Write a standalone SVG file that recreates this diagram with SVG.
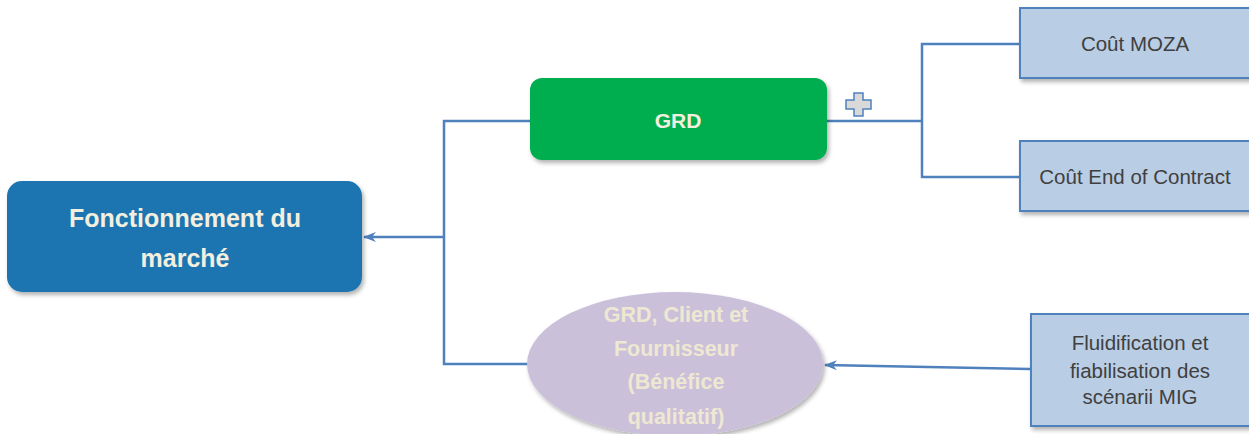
<svg xmlns="http://www.w3.org/2000/svg" width="1249" height="434" viewBox="0 0 1249 434">
  <style>
    .conn { fill: none; stroke: #4F81BD; stroke-width: 2.5; }
    .head { fill: #4F81BD; }
    .main-txt { font-family: "Liberation Sans", Arial, sans-serif; font-weight: bold; font-size: 25px; fill: #F3EFDF; text-anchor: middle; }
    .grd-txt { font-family: "Liberation Sans", Arial, sans-serif; font-weight: bold; font-size: 21px; fill: #F3EFDF; text-anchor: middle; }
    .ell-txt { font-family: "Liberation Sans", Arial, sans-serif; font-weight: bold; font-size: 21.5px; fill: #EEE8D2; text-anchor: middle; }
    .box { fill: #B9CDE5; stroke: #4F81BD; stroke-width: 2; }
    .box-txt { font-family: "Liberation Sans", Arial, sans-serif; font-size: 20.5px; fill: #404040; text-anchor: middle; }
  </style>
  <defs>
    <filter id="shadow" x="-10%" y="-10%" width="125%" height="130%">
      <feDropShadow dx="2" dy="3" stdDeviation="2" flood-color="#000000" flood-opacity="0.3"/>
    </filter>
    <marker id="arrow" markerWidth="13" markerHeight="12" refX="12" refY="6" orient="auto" markerUnits="userSpaceOnUse">
      <path d="M0,1 L13,6 L0,11 L4,6 Z" class="head"/>
    </marker>
  </defs>

  <rect width="1249" height="434" fill="#FFFFFF"/>

  <!-- connectors -->
  <g id="connectors">
    <path class="conn" d="M530,121 H444 V364 H528"/>
    <path class="conn" d="M444,237 H364" marker-end="url(#arrow)"/>
    <path class="conn" d="M827,121 H922 M1019,44 H922 V177 H1019"/>
    <path class="conn" d="M1030,369 L825,365" marker-end="url(#arrow)"/>
  </g>

  <!-- root node -->
  <g id="node-fonctionnement">
    <rect x="7" y="181" width="355" height="111" rx="15" fill="#1C75B0" filter="url(#shadow)"/>
    <text class="main-txt" x="185" y="227">Fonctionnement du</text>
    <text class="main-txt" x="185" y="267">marché</text>
  </g>

  <!-- GRD node -->
  <g id="node-grd">
    <rect x="530" y="78" width="297" height="82" rx="12" fill="#00AE50" filter="url(#shadow)"/>
    <text class="grd-txt" x="678" y="128">GRD</text>
  </g>

  <!-- expand marker next to GRD -->
  <g id="expand-icon">
    <path d="M854,93 H863 V100 H871 V109 H863 V116 H854 V109 H846 V100 H854 Z" fill="#D9D9D9" stroke="#4F81BD" stroke-width="1.5"/>
  </g>

  <!-- cost nodes -->
  <g id="node-moza">
    <rect class="box" x="1020" y="8" width="240" height="70" filter="url(#shadow)"/>
    <text class="box-txt" x="1135" y="51" font-size="20">Coût MOZA</text>
  </g>
  <g id="node-end-of-contract">
    <rect class="box" x="1020" y="141" width="240" height="70" filter="url(#shadow)"/>
    <text class="box-txt" x="1135" y="184">Coût End of Contract</text>
  </g>

  <!-- qualitative benefit node -->
  <g id="node-benefice">
    <ellipse cx="675" cy="364" rx="148" ry="72" fill="#CBC0DA" filter="url(#shadow)"/>
    <text class="ell-txt" x="676" y="322">GRD, Client et</text>
    <text class="ell-txt" x="676" y="356">Fournisseur</text>
    <text class="ell-txt" x="676" y="389">(Bénéfice</text>
    <text class="ell-txt" x="676" y="424">qualitatif)</text>
  </g>

  <!-- MIG scenarios node -->
  <g id="node-mig">
    <rect class="box" x="1031" y="314" width="229" height="112" filter="url(#shadow)"/>
    <text class="box-txt" x="1140" y="350">Fluidification et</text>
    <text class="box-txt" x="1140" y="378">fiabilisation des</text>
    <text class="box-txt" x="1140" y="404">scénarii MIG</text>
  </g>
</svg>
